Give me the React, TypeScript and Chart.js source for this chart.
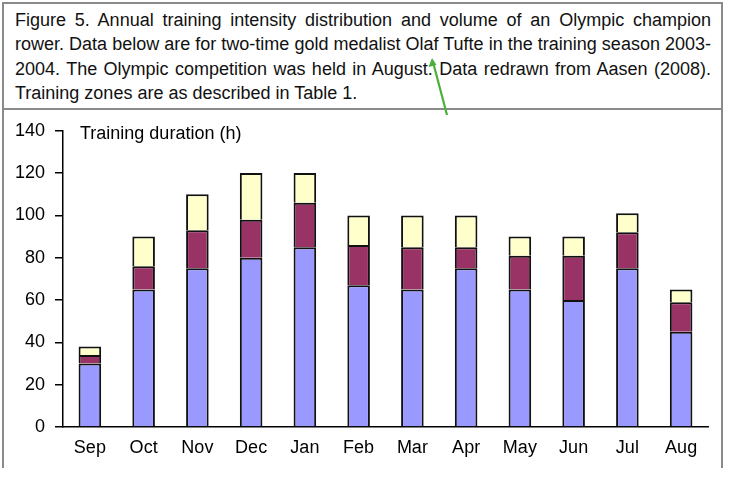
import React, { useEffect, useRef } from "react";
import { Chart, registerables } from "chart.js";

Chart.register(...registerables);

const months = ["Sep", "Oct", "Nov", "Dec", "Jan", "Feb", "Mar", "Apr", "May", "Jun", "Jul", "Aug"];
const zoneLow = [30, 65, 75, 80, 85, 67, 65, 75, 65, 60, 75, 45];
const zoneMid = [4, 11, 18, 18, 21, 19, 20, 10, 16, 21, 17, 14];
const zoneHigh = [4, 14, 17, 22, 14, 14, 15, 15, 9, 9, 9, 6];
const yTicks = [0, 20, 40, 60, 80, 100, 120, 140];
const yTitle = "Training duration (h)";
const captionLines = [
  "Figure 5. Annual training intensity distribution and volume of an Olympic champion",
  "rower. Data below are for two-time gold medalist Olaf Tufte in the training season 2003-",
  "2004. The Olympic competition was held in August. Data redrawn from Aasen (2008).",
  "Training zones are as described in Table 1.",
];

const FONT = '"Liberation Sans", Arial, sans-serif';

export default function App() {
  const ref = useRef<HTMLCanvasElement | null>(null);

  useEffect(() => {
    if (!ref.current) return;
    const titlePlugin = {
      id: "innerTitle",
      afterDraw(chart: any) {
        const ctx = chart.ctx;
        ctx.save();
        ctx.font = `18px ${FONT}`;
        ctx.fillStyle = "#000";
        ctx.textBaseline = "middle";
        ctx.textAlign = "left";
        ctx.fillText(yTitle, chart.chartArea.left + 17, chart.chartArea.top + 3);
        ctx.restore();
      },
    };
    const common = {
      borderColor: "#111",
      borderWidth: 2,
      borderSkipped: "bottom",
      categoryPercentage: 1,
      barPercentage: 0.42,
    };
    const chart = new Chart(ref.current, {
      type: "bar",
      data: {
        labels: months,
        datasets: [
          { label: "Low", data: zoneLow, backgroundColor: "#9999FF", ...common },
          { label: "Mid", data: zoneMid, backgroundColor: "#993366", ...common },
          { label: "High", data: zoneHigh, backgroundColor: "#FFFFCC", ...common },
        ],
      } as any,
      options: {
        animation: false,
        responsive: false,
        devicePixelRatio: 1,
        layout: { padding: { top: 17, right: 23, left: 0, bottom: 0 } },
        plugins: { legend: { display: false }, tooltip: { enabled: false } },
        scales: {
          x: {
            stacked: true,
            grid: { display: false, drawTicks: false },
            border: { display: true, color: "#000", width: 1.5 },
            ticks: { color: "#000", font: { family: FONT, size: 18 }, padding: 10 },
            afterFit: (s: any) => { s.height = 41; },
          },
          y: {
            stacked: true,
            min: 0,
            max: 140,
            afterBuildTicks: (s: any) => { s.ticks = yTicks.map((v) => ({ value: v })); },
            grid: { drawOnChartArea: false, drawTicks: true, tickLength: 8, color: "#000", lineWidth: 1.5 },
            border: { display: true, color: "#000", width: 1.5 },
            ticks: { color: "#000", font: { family: FONT, size: 18 }, padding: 10 },
            afterFit: (s: any) => { s.width = 63; },
          },
        },
      } as any,
      plugins: [titlePlugin],
    });
    return () => chart.destroy();
  }, []);

  return (
    <div style={{ position: "absolute", left: 0, top: 0, width: 731, height: 480, background: "#fff", overflow: "hidden" }}>
      <div style={{ position: "absolute", left: 2, top: 2, width: 717, height: 104, border: "2px solid #8a8a8a" }} />
      <div style={{ position: "absolute", left: 2, top: 108, width: 717, height: 360, borderLeft: "2px solid #8a8a8a", borderRight: "2px solid #8a8a8a" }} />
      <div style={{ position: "absolute", left: 15, top: 8, width: 696, fontFamily: FONT, fontSize: 18, lineHeight: "24.3px", color: "#111" }}>
        {captionLines.map((t, i) => (
          <div key={i} style={{ textAlign: i < 3 ? "justify" : "left", textAlignLast: i < 3 ? "justify" : "left", whiteSpace: "nowrap" } as any}>{t}</div>
        ))}
      </div>
      <canvas ref={ref} width={731} height={358} style={{ position: "absolute", left: 0, top: 110, width: 731, height: 358 }} />
      <svg width={731} height={480} style={{ position: "absolute", left: 0, top: 0, pointerEvents: "none" }}>
        <line x1={447} y1={115} x2={433} y2={62} stroke="#4CAF3A" strokeWidth={2.2} />
        <polygon points="432,58 428.5,67 436.5,65" fill="#4CAF3A" />
      </svg>
    </div>
  );
}
